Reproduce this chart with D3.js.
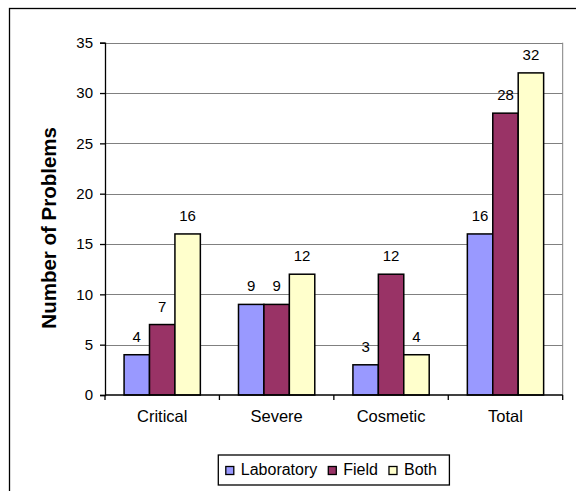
<!DOCTYPE html>
<html>
<head>
<meta charset="utf-8">
<script src="https://cdn.jsdelivr.net/npm/d3@7"></script>
<style>
  body { margin: 0; background: #fff; }
  text { font-family: "Liberation Sans", Arial, sans-serif; fill: #000; }
</style>
</head>
<body>
<svg id="chart" width="576" height="491"></svg>
<script>
let categories = ["Critical", "Severe", "Cosmetic", "Total"],
  series = ["Laboratory", "Field", "Both"],
  laboratory = [4, 9, 3, 16],
  field = [7, 9, 12, 28],
  both = [16, 12, 4, 32],
  y_ticks = [0, 5, 10, 15, 20, 25, 30, 35],
  colors = ["#9999ff", "#993366", "#ffffcc"];

let width = 576,
  height = 491,
  margins = {left: 105, right: 13.3, top: 42.7, bottom: 96};

let values = [laboratory, field, both]
let data = categories.map((c, i) => ({
  category: c,
  values: series.map((s, j) => ({series: s, value: values[j][i], color: colors[j]}))
}))

let svg = d3.select("#chart")

// outer frame, runs off the right and bottom edges
svg.append("rect")
  .attr("x", 9.5).attr("y", 8.5)
  .attr("width", 700).attr("height", 700)
  .attr("fill", "none").attr("stroke", "#000").attr("stroke-width", 1.3)

let x = d3.scaleBand()
  .domain(categories)
  .range([margins.left, width - margins.right])
let x_inner = d3.scaleBand()
  .domain(series)
  .range([0, x.bandwidth()])
  .paddingInner(0)
  .paddingOuter(0.75)
let y = d3.scaleLinear()
  .domain([0, 35])
  .range([height - margins.bottom, margins.top])

// gridlines
svg.append("g")
  .selectAll("line")
  .data(y_ticks.filter(d => d > 0))
  .enter().append("line")
  .attr("x1", margins.left).attr("x2", width - margins.right)
  .attr("y1", d => Math.round(y(d)) + 0.5).attr("y2", d => Math.round(y(d)) + 0.5)
  .attr("stroke", "#808080")

// right border of plot area
svg.append("line")
  .attr("x1", width - margins.right).attr("x2", width - margins.right)
  .attr("y1", y(35)).attr("y2", y(0))
  .attr("stroke", "#808080")

// bars
let groups = svg.append("g")
  .selectAll("g")
  .data(data)
  .enter().append("g")
  .attr("transform", d => `translate(${x(d.category)},0)`)

groups.selectAll("rect")
  .data(d => d.values)
  .enter().append("rect")
  .attr("x", d => x_inner(d.series))
  .attr("y", d => y(d.value))
  .attr("width", x_inner.bandwidth())
  .attr("height", d => y(0) - y(d.value))
  .attr("fill", d => d.color)
  .attr("stroke", "#000")
  .attr("stroke-width", 1.5)

groups.selectAll("text")
  .data(d => d.values)
  .enter().append("text")
  .attr("x", d => x_inner(d.series) + x_inner.bandwidth() / 2)
  .attr("y", d => y(d.value) - 13)
  .attr("text-anchor", "middle")
  .attr("font-size", "15px")
  .text(d => d.value)

// y axis
let y_axis = svg.append("g")
  .attr("transform", `translate(${margins.left},0)`)
  .call(d3.axisLeft(y).tickValues(y_ticks).tickSize(5).tickPadding(7))
y_axis.selectAll("text").attr("font-size", "15px").attr("font-family", null)
y_axis.selectAll("path, line").attr("stroke", "#000").attr("stroke-width", 1.3)

// x axis
let x_axis = svg.append("g")
  .attr("transform", `translate(0,${y(0)})`)
x_axis.append("line")
  .attr("x1", margins.left).attr("x2", width - margins.right)
  .attr("stroke", "#000").attr("stroke-width", 1.3)
x_axis.selectAll(".tick")
  .data(categories.map(c => x(c)).concat([width - margins.right]))
  .enter().append("line")
  .attr("x1", d => d).attr("x2", d => d)
  .attr("y1", 0).attr("y2", 5)
  .attr("stroke", "#000").attr("stroke-width", 1.3)
x_axis.selectAll("text")
  .data(categories)
  .enter().append("text")
  .attr("x", d => x(d) + x.bandwidth() / 2)
  .attr("y", 27)
  .attr("text-anchor", "middle")
  .attr("font-size", "16.5px")
  .text(d => d)

// y title
svg.append("text")
  .attr("transform", `translate(56,${(y(0) + y(35)) / 2 + 9})rotate(-90)`)
  .attr("text-anchor", "middle")
  .attr("font-size", "20.5px")
  .attr("font-weight", "bold")
  .text("Number of Problems")

// legend
let legend = svg.append("g")
let lx = 0
series.forEach((s, i) => {
  let item = legend.append("g").attr("transform", `translate(${lx},0)`)
  item.append("rect")
    .attr("x", 0).attr("y", -8).attr("width", 8).attr("height", 8)
    .attr("fill", colors[i]).attr("stroke", "#000").attr("stroke-width", 1.3)
  let t = item.append("text")
    .attr("x", 15).attr("y", 0)
    .attr("font-size", "16px")
    .text(s)
  lx += 15 + t.node().getComputedTextLength() + 11
})
let legend_w = lx - 11 + 20,
  legend_cx = (margins.left + width - margins.right) / 2,
  legend_x = legend_cx - legend_w / 2
legend.insert("rect", ":first-child")
  .attr("x", -7.5).attr("y", -19.5)
  .attr("width", legend_w).attr("height", 30)
  .attr("fill", "#fff").attr("stroke", "#000").attr("stroke-width", 1.3)
legend.attr("transform", `translate(${legend_x + 7.5},474.5)`)
</script>
</body>
</html>
